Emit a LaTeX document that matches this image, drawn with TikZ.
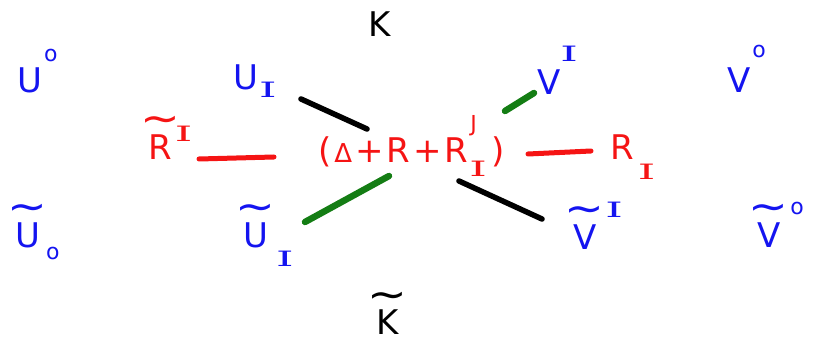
\documentclass[tikz,border=0pt]{standalone}
\usepackage{fontspec}
\setmainfont{DejaVu Sans}
\newfontfamily\serifI{DejaVu Serif}
\newcommand\sbs[3][0pt]{\hspace{#1}\raisebox{#2}{\fontsize{20}{20}\selectfont #3}}
\newcommand\bI{{\serifI\fontsize{24}{24}\selectfont\scalebox{1.85}[0.88]{I}}}
\newcommand\tld[1]{\ooalign{\hidewidth\raisebox{27pt}{\scalebox{1.4}[1.2]{\textasciitilde}}\hidewidth\cr #1\cr}}
\begin{document}
\begin{tikzpicture}[x=1pt,y=-1pt,
  lbl/.style={font=\fontsize{34}{36}\selectfont, inner sep=0pt, anchor=base west},
  blu/.style={lbl, text={rgb,255:red,20;green,20;blue,240}},
  rd/.style={lbl, text={rgb,255:red,245;green,20;blue,20}},
  bk/.style={lbl, text=black},
  bline/.style={line width=5.5pt, line cap=round, black},
  gline/.style={line width=6.5pt, line cap=round, draw={rgb,255:red,20;green,125;blue,20}},
  rline/.style={line width=5pt, line cap=round, draw={rgb,255:red,245;green,20;blue,20}}]
\useasboundingbox (0,0) rectangle (817,347);
\node[bk]  (K)  at (368,37) {K};
\node[bk]  (Kt) at (376,335) {\tld{K}};
\node[blu] (Uo) at (17,93) {U\sbs[2pt]{31pt}{\fontsize{22}{22}\selectfont o}};
\node[blu] (Uto) at (15,248) {\tld{U}\sbs[6pt]{-12pt}{\fontsize{22}{22}\selectfont o}};
\node[blu] (UI) at (233,90) {U\sbs[1pt]{-8pt}{\bI}};
\node[blu] (UtI) at (243,248) {\tld{U}\sbs[8pt]{-19pt}{\bI}};
\node[rd]  (RtI) at (148,160) {\tld{R}\sbs[3pt]{18pt}{\bI}};
\node[rd]  (C) at (318,163) {(\hspace{3pt}{\fontsize{26}{26}\selectfont Δ}\hspace{3pt}+\hspace{3pt}R\hspace{3pt}+\hspace{3pt}R\rlap{\sbs[2pt]{31pt}{\fontsize{22}{22}\selectfont J}}\sbs[1pt]{-14pt}{\bI}\hspace{4pt})};
\node[rd]  (RI) at (610,160) {R\sbs[4pt]{-20pt}{\bI}};
\node[blu] (VI) at (537,95) {V\sbs{33pt}{\bI}};
\node[blu] (Vo) at (727,93) {V\sbs[2pt]{35pt}{\fontsize{22}{22}\selectfont o}};
\node[blu] (VtI) at (573,250) {\tld{V}\sbs[9pt]{32pt}{\bI}};
\node[blu] (Vto) at (757,248) {\tld{V}\sbs[10pt]{33pt}{\fontsize{22}{22}\selectfont o}};
\coordinate (a1) at (301,99);  \coordinate (a2) at (367,129);
\coordinate (b1) at (305,222); \coordinate (b2) at (389,176);
\coordinate (c1) at (505,111); \coordinate (c2) at (534,93);
\coordinate (d1) at (459,181); \coordinate (d2) at (542,219);
\coordinate (e1) at (199,159); \coordinate (e2) at (274,157);
\coordinate (f1) at (528,154); \coordinate (f2) at (591,151);
\draw[bline] (a1) -- (a2);
\draw[gline] (b1) -- (b2);
\draw[gline] (c1) -- (c2);
\draw[bline] (d1) -- (d2);
\draw[rline] (e1) -- (e2);
\draw[rline] (f1) -- (f2);
\end{tikzpicture}
\end{document}
